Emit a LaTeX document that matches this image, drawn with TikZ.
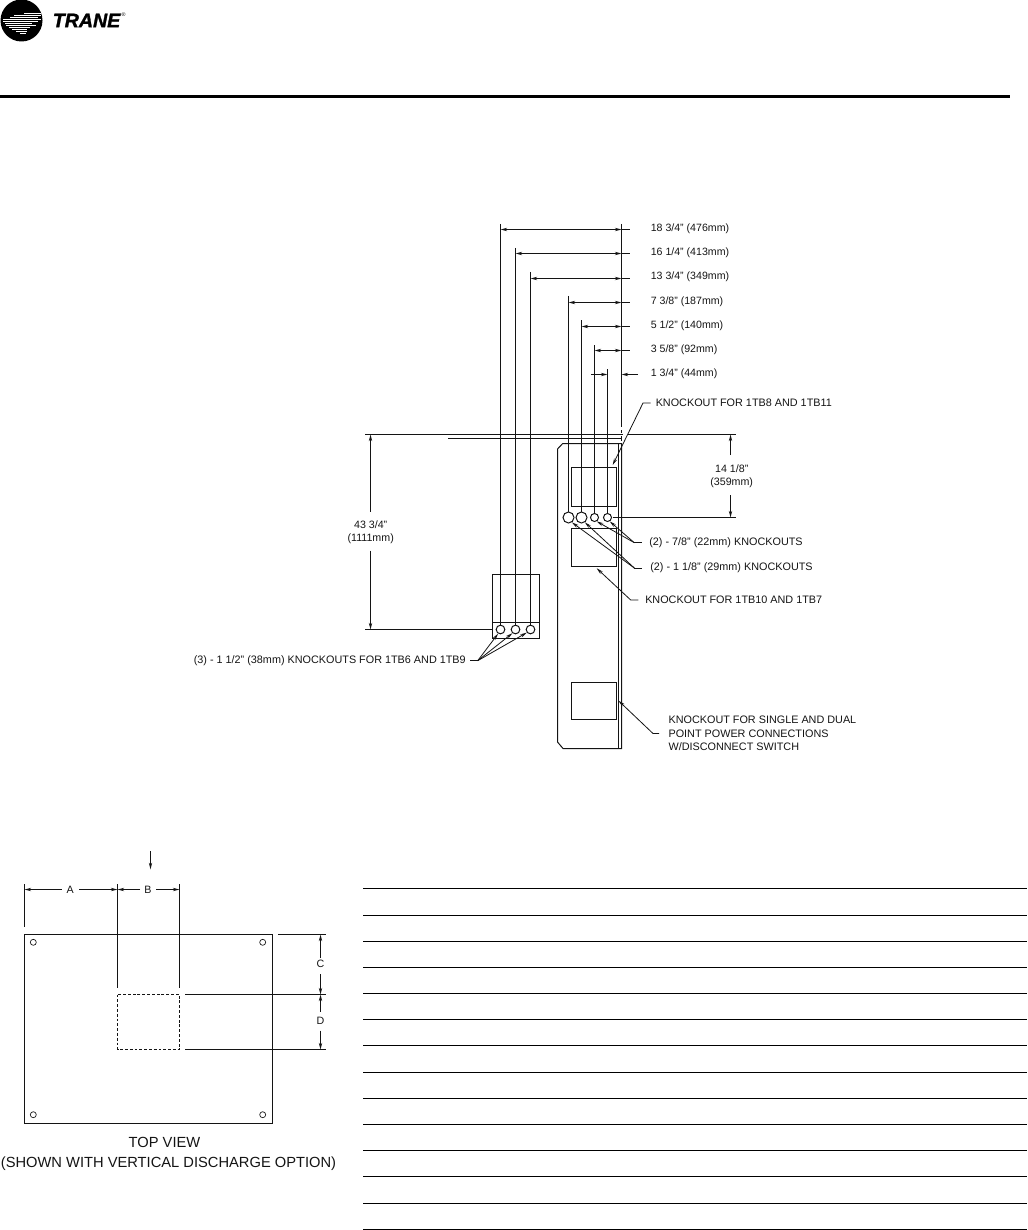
\documentclass[tikz,border=0pt]{standalone}
\usepackage{fontspec}
\setmainfont{Liberation Sans}
\newfontfamily\brandf{Liberation Sans}[UprightFont=* Bold Italic,FakeBold=1.5]
\usetikzlibrary{arrows.meta}
\definecolor{ink}{gray}{0.08}
\tikzset{
  ln/.style={draw=ink,line width=0.75pt},
  arr/.style={ln,-{Stealth[length=5pt,width=2.5pt]}},
  darr/.style={ln,{Stealth[length=5pt,width=2.5pt]}-{Stealth[length=5pt,width=2.5pt]}},
  thin leader/.style={draw=ink,line width=0.6pt,-{Stealth[length=5pt,width=2.5pt]}},
  lab/.style={inner sep=0pt,anchor=west,text=ink,font=\fontsize{8.12pt}{9.5pt}\selectfont},
  dimlab/.style={lab,font=\fontsize{7.95pt}{9.5pt}\selectfont},
  ctr/.style={inner sep=0pt,align=center,text=ink,font=\fontsize{8pt}{9.8pt}\selectfont},
  big/.style={inner sep=0pt,text=ink,font=\fontsize{11.02pt}{12pt}\selectfont},
  hole/.style={circle,ln,inner sep=0pt,minimum size=#1},
  pinhole/.style={circle,draw=ink,line width=0.5pt,inner sep=0pt,minimum size=#1},
  boxk/.style={draw=ink,line width=0.75pt,inner sep=0pt},
  rule/.style={draw=black,line width=0.75pt},
}
\begin{document}
\begin{tikzpicture}[x=0.75pt,y=-0.75pt]
\useasboundingbox (0,0) rectangle (1027,1230);
% logo
\fill[black] (21.5,20.5) circle (21);
\foreach \y/\a/\b in {13/24/41,15/14/41,17/10/38,19/3/41,21/3/38,23/5/32,25/6/36,27/9/30,29/12/27,31/16/27,33/20/26}
  \draw[white,line width=0.45pt] (\a,\y) -- (\b,\y);
\node[inner sep=0pt,anchor=west,font=\brandf\fontsize{14.7pt}{14.7pt}\selectfont] (brand) at (52.5,20.5) {TRANE};
\node[inner sep=0pt,font=\fontsize{4pt}{4pt}\selectfont] (reg) at (123.5,14.5) {®};
\draw[black,line width=2.6pt] (0,96.3) -- (1010,96.3);

% side view holes
\node[hole=8.25pt] (h1) at (568.5,517.5) {};
\node[hole=8.25pt] (h2) at (581.5,517.5) {};
\node[hole=6pt] (h3) at (594.5,517.5) {};
\node[hole=6pt] (h4) at (607.5,517.5) {};
\node[hole=6.5pt] (s1) at (500.5,629.5) {};
\node[hole=6.5pt] (s2) at (515.5,629.5) {};
\node[hole=6.5pt] (s3) at (530.5,629.5) {};

% extension lines
\draw[ln] (500.5,224) -- (s1.north);
\draw[ln] (515.5,248) -- (s2.north);
\draw[ln] (530.5,272) -- (s3.north);
\draw[ln] (568.5,296) -- (h1.north);
\draw[ln] (581.5,320) -- (h2.north);
\draw[ln] (594.5,345) -- (h3.north);
\draw[ln] (607.5,369) -- (h4.north);
\draw[ln] (621.5,224) -- (621.5,427);
\draw[ln] (621.5,430) -- (621.5,433);
\draw[ln] (621.5,436) -- (621.5,441);

% horizontal dims
\foreach \y/\x in {229.5/500.5,253.5/515.5,278.5/530.5,302.5/568.5,326.5/581.5,350.5/594.5}
  \draw[darr] (\x,\y) -- (621.5,\y);
\foreach \y in {229.5,253.5,278.5,302.5,326.5,350.5}
  \draw[ln] (621.5,\y) -- (630,\y);
\coordinate (qa) at (591,374.5);
\coordinate (qb) at (638,374.5);
\draw[arr] (qa) -- (607.5,374.5);
\draw[arr] (qb) -- (621.5,374.5);
\node[dimlab] (d1) at (650.5,229) {18 3/4" (476mm)};
\node[dimlab] (d2) at (650.5,253) {16 1/4" (413mm)};
\node[dimlab] (d3) at (650.5,277) {13 3/4" (349mm)};
\node[dimlab] (d4) at (650.5,301.5) {7 3/8" (187mm)};
\node[dimlab] (d5) at (650.5,326) {5 1/2" (140mm)};
\node[dimlab] (d6) at (650.5,350) {3 5/8" (92mm)};
\node[dimlab] (d7) at (650.5,374) {1 3/4" (44mm)};

% datum lines
\draw[ln] (365,434.5) -- (623,434.5);
\draw[ln] (628,434.5) -- (735.7,434.5);
\draw[ln] (448,438.5) -- (621.5,438.5);
\draw[ln] (612.7,517.5) -- (735.7,517.5);
\draw[ln] (365,629.5) -- (492.5,629.5);

% panel
\draw[ln] (621.5,443.5) -- (562.7,443.5) -- (557.5,449) -- (557.5,742) -- (563,748.5) -- (621.5,748.5) -- cycle;
\draw[ln] (618.5,443.5) -- (618.5,748.5);
\node[boxk,minimum width=33.75pt,minimum height=29.25pt] (b1) at (594,487) {};
\node[boxk,minimum width=33.75pt,minimum height=28.5pt] (b2) at (594,547.5) {};
\node[boxk,minimum width=33.75pt,minimum height=27.75pt] (b3) at (594,701) {};
% small box
\node[boxk,minimum width=35.25pt,minimum height=48pt] (b4) at (516,606.5) {};
\draw[ln] (492.5,622.5) -- (539.5,622.5);

% vertical dims with text
\node[ctr] (t14) at (731.7,476.5) {14 1/8"\\(359mm)};
\draw[arr] (730.5,455) -- (730.5,434.5);
\draw[arr] (730.5,495) -- (730.5,517.5);
\node[ctr] (t43) at (370.7,532.5) {43 3/4"\\(1111mm)};
\draw[arr] (370.5,511.7) -- (370.5,434.5);
\draw[arr] (370.5,550.7) -- (370.5,629.5);

% labels with leaders
\node[lab] (k1) at (655.5,402.5) {KNOCKOUT FOR 1TB8 AND 1TB11};
\draw[thin leader] (650.7,403) -- (643,403) -- (612.7,465);
\node[lab] (k2) at (649,542.7) {(2) - 7/8" (22mm) KNOCKOUTS};
\coordinate (j2) at (634.3,542.7);
\draw[ln,line width=0.6pt] (641.7,542.7) -- (j2);
\draw[thin leader] (j2) -- (h3.-60);
\draw[thin leader] (j2) -- (h4.-60);
\node[lab] (k3) at (650,568) {(2) - 1 1/8" (29mm) KNOCKOUTS};
\coordinate (j3) at (634.3,568);
\draw[ln,line width=0.6pt] (641.7,568) -- (j3);
\draw[thin leader] (j3) -- (h1.-55);
\draw[thin leader] (j3) -- (h2.-55);
\node[lab] (k4) at (645,600) {KNOCKOUT FOR 1TB10 AND 1TB7};
\draw[thin leader] (638.3,600) -- (630.7,600) -- (596.7,568.3);
\node[lab,align=left,font=\fontsize{8.12pt}{10pt}\selectfont] (k5) at (668.3,733.5) {KNOCKOUT FOR SINGLE AND DUAL\\POINT POWER CONNECTIONS\\W/DISCONNECT SWITCH};
\draw[thin leader] (659,733.5) -- (653,733.5) -- (618.5,700.7);
\node[lab,anchor=east] (k6) at (466,660.7) {(3) - 1 1/2" (38mm) KNOCKOUTS FOR 1TB6 AND 1TB9};
\coordinate (j6) at (477.7,660.7);
\draw[ln,line width=0.6pt] (470,660.7) -- (j6);
\draw[thin leader] (j6) -- (s1.-120);
\draw[thin leader] (j6) -- (s2.-130);
\draw[thin leader] (j6) -- (s3.-140);

% top view
\draw[ln] (24.5,934.5) rectangle (272.5,1123.5);
\node[pinhole=4.5pt] (p1) at (33.3,942.3) {};
\node[pinhole=4.5pt] (p2) at (262.7,942.3) {};
\node[pinhole=4.5pt] (p3) at (33.3,1114.7) {};
\node[pinhole=4.5pt] (p4) at (262.7,1114.7) {};
\draw[arr] (150.5,851) -- (150.5,869.3);
\draw[ln] (24.5,884) -- (24.5,927.3);
\draw[ln] (117.5,884) -- (117.5,988.3);
\draw[ln] (179.5,884) -- (179.5,988.3);
\draw[ln,dash pattern=on 2.2pt off 1.4pt] (117.5,994.5) rectangle (179.5,1049.5);
\draw[ln] (278,934.5) -- (326,934.5);
\draw[ln] (185,994.5) -- (326,994.5);
\draw[ln] (185,1049.5) -- (326,1049.5);
\node[ctr] (la) at (70.3,889.5) {A};
\node[ctr] (lb) at (148,889.5) {B};
\node[ctr] (lc) at (320.5,963.7) {C};
\node[ctr] (ld) at (320.5,1021) {D};
\draw[arr] (61.7,889.5) -- (24.5,889.5);
\draw[arr] (79,889.5) -- (117.5,889.5);
\draw[arr] (140,889.5) -- (117.5,889.5);
\draw[arr] (156,889.5) -- (179.5,889.5);
\draw[arr] (320.5,958) -- (320.5,934.5);
\draw[arr] (320.5,974.3) -- (320.5,994.5);
\draw[arr] (320.5,1011.7) -- (320.5,994.5);
\draw[arr] (320.5,1030.7) -- (320.5,1049.5);
\node[big] (tv1) at (164.5,1142.7) {TOP VIEW};
\node[big] (tv2) at (168.5,1164) {(SHOWN WITH VERTICAL DISCHARGE OPTION)};

% table rules
\foreach \y in {888.5,915.5,941.5,967.5,993.5,1019.5,1045.5,1072.5,1098.5,1124.5,1150.5,1176.5,1203.5,1229.5}
  \draw[rule] (363,\y) -- (1027,\y);
\end{tikzpicture}
\end{document}
